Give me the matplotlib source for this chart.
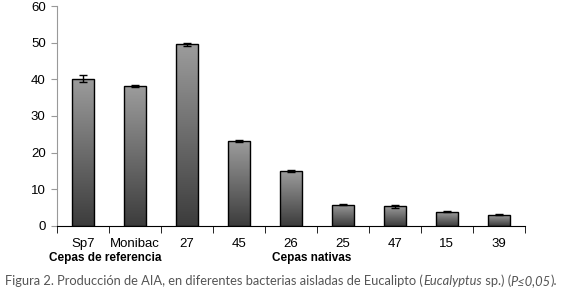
import matplotlib.pyplot as plt
from matplotlib.colors import LinearSegmentedColormap
import numpy as np

cepas = ["Sp7", "Monibac", "27", "45", "26", "25", "47", "15", "39"]
aia = [40.2, 38.2, 49.5, 23.2, 15.0, 5.8, 5.3, 3.8, 3.0]
err = [1.0, 0.3, 0.4, 0.3, 0.2, 0.2, 0.5, 0.1, 0.1]
yticks = [0, 10, 20, 30, 40, 50, 60]

plt.rcParams['font.family'] = ['Liberation Sans', 'DejaVu Sans']

fig = plt.figure(figsize=(5.68, 3.01), dpi=100)
ax = fig.add_axes([0.100, 0.250, 0.824, 0.730])

x = np.arange(len(cepas))
bars = ax.bar(x, aia, width=0.42, facecolor='none', edgecolor='black', linewidth=1.0, zorder=3)
cmap = LinearSegmentedColormap.from_list('g', ['#3c3c3c', '#9c9c9c'])
grad = np.linspace(0, 1, 256).reshape(-1, 1)
for b in bars:
    x0, y0 = b.get_x(), b.get_y()
    im = ax.imshow(grad, cmap=cmap, aspect='auto',
                   extent=[x0, x0 + b.get_width(), y0, y0 + b.get_height()],
                   origin='lower', zorder=2)
    im.set_clip_path(b)
ax.errorbar(x, aia, yerr=err, fmt='none', ecolor='black', elinewidth=1.0, capsize=3, capthick=1.0, zorder=4)

ax.set_xlim(-0.5, len(cepas) - 0.5)
ax.set_ylim(0, 60)
ax.set_yticks(yticks)
ax.set_xticks(x)
ax.set_xticklabels(cepas)
ax.set_xticks(np.arange(-0.5, len(cepas), 1), minor=True)
ax.tick_params(axis='x', which='major', length=0, pad=9, labelsize=9.5)
ax.tick_params(axis='x', which='minor', length=5, direction='out', color='black')
ax.tick_params(axis='y', length=4, color='#999999', labelsize=9.5, pad=4)
for s in ['top', 'right']:
    ax.spines[s].set_visible(False)
ax.spines['left'].set_color('#999999')
ax.spines['bottom'].set_color('black')

fig.text(0.185, 0.143, "Cepas de referencia", fontsize=8.5, fontweight='bold', ha='center', va='center')
fig.text(0.549, 0.143, "Cepas nativas", fontsize=8.5, fontweight='bold', ha='center', va='center')

# caption with italic parts
pieces = [("Figura 2. Producción de AIA, en diferentes bacterias aisladas de Eucalipto (", 'normal'),
          ("Eucalyptus", 'italic'), (" sp.) (", 'normal'), ("P≤0,05", 'italic'), (").", 'normal')]
fig.canvas.draw()
r = fig.canvas.get_renderer()
xpos = 5
for s, st in pieces:
    t = fig.text(xpos / 568, 0.066, s, fontsize=9.3, color='#555555', family='Lato',
                 style=st, va='center')
    xpos += t.get_window_extent(renderer=r).width

plt.savefig("out.png", dpi=100)
